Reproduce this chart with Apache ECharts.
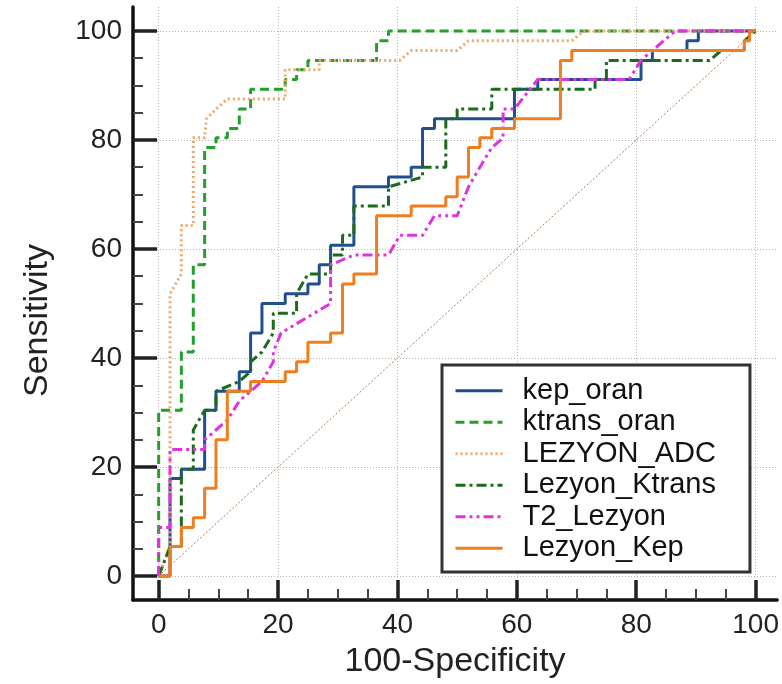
<!DOCTYPE html>
<html>
<head>
<meta charset="utf-8">
<script src="https://cdn.jsdelivr.net/npm/echarts@6/dist/echarts.min.js"></script>
<style>
html, body { margin: 0; padding: 0; background: #fff; }
#roc { width: 782px; height: 684px; }
</style>
</head>
<body>
<div id="roc"></div>
<script>
// tick values (both axes)
var majorTicks = [0, 20, 40, 60, 80, 100];
var minorTicks = [5, 10, 15, 25, 30, 35, 45, 50, 55, 65, 70, 75, 85, 90, 95];

var seriesNames = ['kep_oran', 'ktrans_oran', 'LEZYON_ADC', 'Lezyon_Ktrans', 'T2_Lezyon', 'Lezyon_Kep'];

// [100-Specificity, Sensitivity]
var kepOran = [[0,0],[1.9,0],[1.9,17.9],[3.8,17.9],[3.8,19.6],[7.7,19.6],[7.7,30.4],[9.6,30.4],[9.6,33.9],[13.5,33.9],[13.5,37.5],[15.4,37.5],[15.4,44.6],[17.3,44.6],[17.3,50],[21.2,50],[21.2,51.8],[25,51.8],[25,53.6],[26.9,53.6],[26.9,57.1],[28.8,57.1],[28.8,60.7],[32.7,60.7],[32.7,71.4],[38.5,71.4],[38.5,73.2],[42.3,73.2],[42.3,75],[44.2,75],[44.2,82.1],[46.2,82.1],[46.2,83.9],[59.6,83.9],[59.6,89.3],[63.5,89.3],[63.5,91.1],[80.8,91.1],[80.8,94.6],[82.7,94.6],[82.7,96.4],[88.5,96.4],[88.5,98.2],[90.4,98.2],[90.4,100],[100,100]];

var ktransOran = [[0,0],[0,30.4],[3.8,30.4],[3.8,41.1],[5.8,41.1],[5.8,57.1],[7.7,57.1],[7.7,78.6],[9.6,78.6],[9.6,80.4],[11.5,80.4],[11.5,82.1],[13.5,82.1],[13.5,85.7],[15.4,85.7],[15.4,89.3],[21.2,89.3],[21.2,91.1],[23.1,91.1],[23.1,92.9],[25,92.9],[25,94.6],[36.5,94.6],[36.5,98.2],[38.5,98.2],[38.5,100],[100,100]];

var lezyonAdc = [[0,0],[1.9,5.4],[1.9,51.8],[3.8,55.4],[3.8,64.3],[5.8,64.3],[5.8,80.4],[7.7,80.4],[8,83.9],[9.6,85.7],[11.5,87.5],[21.2,87.5],[21.2,92.9],[26.9,92.9],[26.9,94.6],[40.4,94.6],[42.3,96.4],[50,96.4],[51.9,98.2],[69.2,98.2],[71.2,100],[100,100]];

var lezyonKtrans = [[0,0],[1.9,5.4],[3.8,5.4],[3.8,19.6],[5.8,19.6],[5.8,26.8],[7.7,30.4],[9.6,30.4],[9.6,33.9],[13.5,35.7],[15.4,37.5],[15.4,39.3],[17.3,41.1],[19.2,44.6],[19.2,48.2],[23.1,48.2],[23.1,51.8],[25,55.4],[28.8,55.4],[28.8,58.9],[30.8,58.9],[30.8,62.5],[32.7,62.5],[32.7,67.9],[38.5,67.9],[38.5,71.4],[44.2,73.2],[44.2,75],[48.1,75],[48.1,83.9],[50,83.9],[50,85.7],[55.8,85.7],[55.8,89.3],[73.1,89.3],[73.1,91.1],[75,91.1],[75,94.6],[92.3,94.6],[94.2,96.4],[98.1,96.4],[98.1,98.2],[100,100]];

var t2Lezyon = [[0,0],[0,8.9],[1.9,8.9],[1.9,23.2],[7.7,23.2],[7.7,25],[11.5,28.6],[13.5,32.1],[15.4,33.9],[17.3,35.7],[19.2,39.3],[19.2,41.1],[20.5,44.6],[28.8,50],[28.8,57.1],[32.7,58.9],[38.5,58.9],[40.4,62.5],[44.2,62.5],[46.2,66.1],[50,66.1],[51.9,71.4],[53.8,75],[55.8,78.6],[57.7,80.4],[57.7,85.7],[59.6,85.7],[63.5,91.1],[78.8,91.1],[80.8,94.6],[84.6,98.2],[86.5,100],[100,100]];

var lezyonKep = [[0,0],[1.9,0],[1.9,5.4],[3.8,5.4],[3.8,8.9],[5.8,8.9],[5.8,10.7],[7.7,10.7],[7.7,16.1],[9.6,16.1],[9.6,25],[11.5,25],[11.5,33.9],[15.4,33.9],[15.4,35.7],[21.2,35.7],[21.2,37.5],[23.1,37.5],[23.1,39.3],[25,39.3],[25,42.9],[28.8,42.9],[28.8,44.6],[30.8,44.6],[30.8,53.6],[32.7,53.6],[32.7,55.4],[36.5,55.4],[36.5,66.1],[42.3,66.1],[42.3,67.9],[48.1,67.9],[48.1,69.6],[50,69.6],[50,73.2],[51.9,73.2],[51.9,78.6],[53.8,78.6],[53.8,80.4],[55.8,80.4],[55.8,82.1],[59.6,82.1],[59.6,83.9],[67.3,83.9],[67.3,94.6],[69.2,94.6],[69.2,96.4],[98.1,96.4],[98.1,98.2],[99,98.2],[99,100],[100,100]];

var chanceLine = [[0,0],[100,100]];

var font = 'Liberation Sans, Arial, sans-serif';

// main axis: line, big ticks, labels, grid; second axis only carries the small ticks
function makeAxes(min, max, majorLen, minorLen, pos, name, nameGap, extra) {
  return [{
    type: 'value', position: pos, min: min, max: max,
    name: name, nameLocation: 'middle', nameGap: nameGap,
    nameTextStyle: Object.assign({ fontSize: 34, fontFamily: font, color: '#222' }, extra),
    axisLine: { show: true, onZero: false, lineStyle: { color: '#111', width: 3.5 } },
    axisTick: { show: true, inside: true, length: majorLen, customValues: majorTicks,
      lineStyle: { color: '#222', width: 3.5 } },
    axisLabel: { show: true, customValues: majorTicks, fontSize: 28, fontFamily: font,
      color: '#222', margin: 11 },
    splitLine: { show: true, lineStyle: { color: '#b4b4b4', width: 1, type: [1, 2] } }
  }, {
    type: 'value', position: pos, min: min, max: max,
    axisLine: { show: false, onZero: false },
    axisTick: { show: true, inside: true, length: minorLen, customValues: minorTicks,
      lineStyle: { color: '#444', width: 2 } },
    axisLabel: { show: false },
    splitLine: { show: false }
  }];
}

function curve(name, data, color, type) {
  return {
    name: name, type: 'line', data: data,
    showSymbol: false, symbol: 'none', silent: true,
    lineStyle: { color: color, width: 3, type: type, cap: 'butt' },
    itemStyle: { color: color }
  };
}

var chart = echarts.init(document.getElementById('roc'));
chart.setOption({
  animation: false,
  backgroundColor: '#fff',
  grid: { left: 133, right: 0, top: 7, bottom: 79 },
  xAxis: makeAxes(-4.3, 103.6, 20, 11, 'bottom', '100-Specificity', 45, {}),
  yAxis: makeAxes(-4.4, 104.4, 24, 10, 'left', 'Sensitivity', 78, { padding: [0, 34, 0, 0] }),
  legend: {
    orient: 'vertical', left: 442, top: 365,
    data: seriesNames,
    itemWidth: 47, itemHeight: 10, itemGap: 0,
    padding: [10, 34, 8, 12],
    borderColor: '#333', borderWidth: 3, backgroundColor: '#fff',
    selectedMode: false,
    itemStyle: { opacity: 0 },
    lineStyle: { width: 3 },
    textStyle: { fontSize: 29, fontFamily: font, color: '#111', lineHeight: 31.5, padding: [0, 0, 0, 15] }
  },
  series: [
    {
      name: 'chance', type: 'line', data: chanceLine, showSymbol: false, symbol: 'none', silent: true,
      lineStyle: { color: '#b07a55', width: 1, type: [2, 2] }
    },
    curve(seriesNames[0], kepOran, '#1f4f8f', 'solid'),
    curve(seriesNames[1], ktransOran, '#22a02a', [9, 5]),
    curve(seriesNames[2], lezyonAdc, '#f2a766', [2, 3]),
    curve(seriesNames[3], lezyonKtrans, '#1c6b1c', [10, 4, 3, 4]),
    curve(seriesNames[4], t2Lezyon, '#e033e0', [10, 4, 3, 4, 3, 4]),
    curve(seriesNames[5], lezyonKep, '#f07d1e', 'solid')
  ]
});
</script>
</body>
</html>
